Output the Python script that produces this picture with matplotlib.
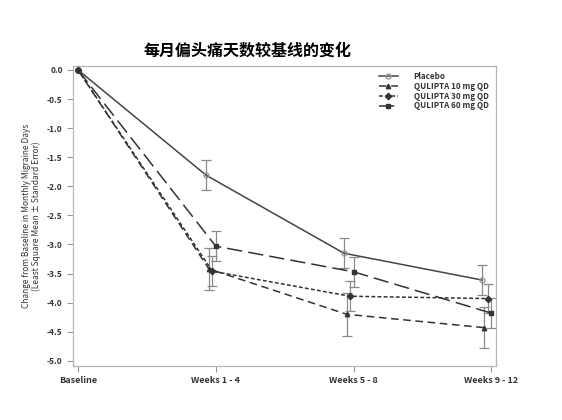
import matplotlib
matplotlib.use('Agg')
import matplotlib.pyplot as plt
import numpy as np

plt.rcParams['font.family'] = ['Noto Sans CJK SC', 'DejaVu Sans']
plt.rcParams['axes.unicode_minus'] = False

# 数据
visits = ['Baseline', 'Weeks 1 - 4', 'Weeks 5 - 8', 'Weeks 9 - 12']
groups = ['Placebo', 'QULIPTA 10 mg QD', 'QULIPTA 30 mg QD', 'QULIPTA 60 mg QD']
placebo = [0.0, -1.81, -3.15, -3.61]
mg10 = [0.0, -3.42, -4.20, -4.43]
mg30 = [0.0, -3.46, -3.89, -3.93]
mg60 = [0.0, -3.03, -3.47, -4.18]
placebo_se = [0.0, 0.26, 0.26, 0.25]
mg10_se = [0.0, 0.36, 0.37, 0.35]
mg30_se = [0.0, 0.26, 0.26, 0.25]
mg60_se = [0.0, 0.26, 0.26, 0.26]

means = [placebo, mg10, mg30, mg60]
ses = [placebo_se, mg10_se, mg30_se, mg60_se]
styles = ['-', (0, (5, 3)), (0, (2.5, 1.5)), (0, (10, 4))]
markers = ['o', '^', 'D', 's']
offsets = [-0.07, -0.05, -0.025, 0.0]

fig = plt.figure(figsize=(5.62, 4.2), dpi=100)
ax = fig.add_axes([0.130, 0.129, 0.753, 0.714])

x = np.arange(len(visits))
for i in range(4):
    xs = x + np.array([0] + [offsets[i]] * 3)
    m = np.array(means[i])
    e = np.array(ses[i])
    ax.errorbar(xs[1:], m[1:], yerr=e[1:], fmt='none', ecolor='#8a8a8a',
                elinewidth=0.9, capsize=3.5, capthick=0.9, zorder=2)
    if i == 0:
        ax.plot(xs, m, linestyle=styles[i], color='#444444', lw=1.1,
                marker=markers[i], ms=3.5, mfc='none', mec='#999999',
                label=groups[i], zorder=3)
    else:
        ax.plot(xs, m, linestyle=styles[i], color='#333333', lw=1.1,
                marker=markers[i], ms=3.2, mfc='#333333', mec='#333333',
                label=groups[i], zorder=3)

ax.set_xlim(-0.036, 3.036)
ax.set_ylim(-5.086, 0.069)
ax.set_xticks(x)
ax.set_xticklabels(visits, fontsize=6.5, color='#333333', fontweight='bold')
ax.set_yticks(np.arange(0, -5.01, -0.5))
ax.set_yticklabels(['%.1f' % v for v in np.arange(0, -5.01, -0.5)],
                   fontsize=6, color='#333333', fontweight='bold')
for s in ax.spines.values():
    s.set_color('#b5b5b5')
    s.set_linewidth(0.9)
ax.tick_params(color='#999999', length=4, width=0.8)

ax.set_ylabel('Change from Baseline in Monthly Migraine Days\n(Least Square Mean \u00b1 Standard Error)',
              fontsize=6, color='#333333', labelpad=4, linespacing=1.1)

leg = ax.legend(loc='upper right', fontsize=5.8, frameon=False, handlelength=2.35,
                handletextpad=2.0, labelspacing=0.12, borderaxespad=0.3,
                bbox_to_anchor=(0.995, 1.0))
for t in leg.get_texts():
    t.set_color('#333333')
    t.set_fontweight('bold')

fig.text(0.44, 0.88, '每月偏头痛天数较基线的变化', fontsize=11.5, fontweight='bold',
         ha='center', va='center')

fig.savefig('out.png', dpi=100)
